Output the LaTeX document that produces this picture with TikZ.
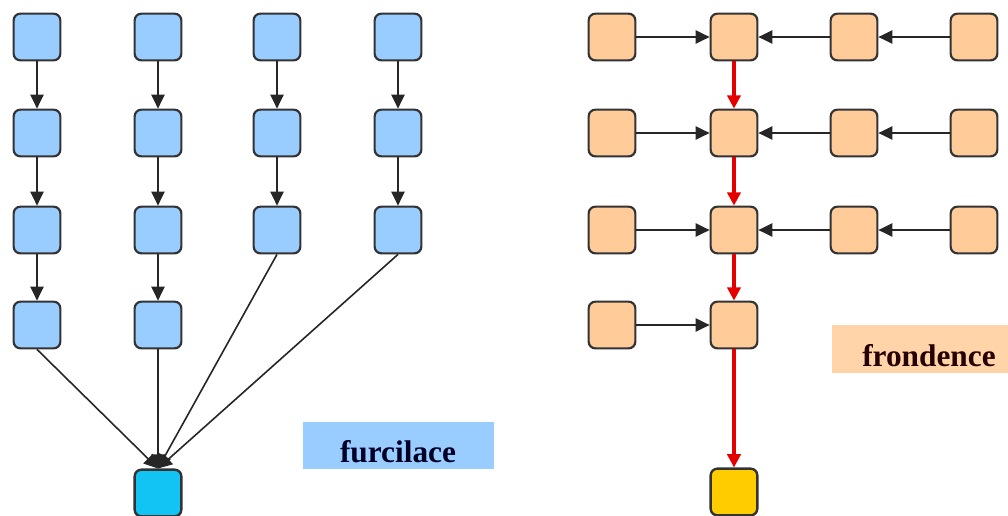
\documentclass[tikz,border=0pt]{standalone}
\usepackage{fontspec}
\setmainfont{Liberation Serif}
\usetikzlibrary{arrows.meta}
\definecolor{lblue}{HTML}{99CCFF}
\definecolor{cyanb}{HTML}{11C4F4}
\definecolor{lorange}{HTML}{FFCC99}
\definecolor{yel}{HTML}{FFCC00}
\definecolor{bord}{HTML}{333333}
\begin{document}
\begin{tikzpicture}[x=0.75pt,y=-0.75pt,
  bx/.style={draw=bord,line width=1.6pt,rounded corners=5pt,minimum width=35pt,minimum height=35pt,inner sep=0pt},
  bb/.style={bx,fill=lblue},
  ob/.style={bx,fill=lorange},
  blk/.style={draw=black!85,line width=1.2pt,-{Triangle[length=10.5pt,width=10pt]}},
  red/.style={draw=red!90!black,line width=2.4pt,-{Triangle[length=10pt,width=10pt]}},
  lbl/.style={font=\bfseries\fontsize{23.5}{26}\selectfont,text=black!85!blue,inner sep=0pt}]
\useasboundingbox (0,0) rectangle (1008,515);
% blue part
\foreach \c/\x in {1/37,2/158,3/277,4/398}{
  \foreach \r/\y in {1/37,2/133,3/230}{
    \node[bb] (b\c\r) at (\x,\y) {};
  }
}
\node[bb] (b14) at (37,325) {};
\node[bb] (b24) at (158,325) {};
\node[bx,fill=cyanb,line width=1.8pt] (bend) at (158,493) {};
\coordinate (bt) at ([yshift=0pt]bend.north);
\foreach \c in {1,2,3,4}{
  \draw[blk] (b\c1) -- (b\c2);
  \draw[blk] (b\c2) -- (b\c3);
}
\draw[blk] (b13) -- (b14);
\draw[blk] (b23) -- (b24);
\draw[blk] (b14.south) -- (bt);
\draw[blk] (b24.south) -- (bt);
\draw[blk] (b33.south) -- (bt);
\draw[blk] (b43.south) -- (bt);
\node[fill=lblue,minimum width=143pt,minimum height=35pt,inner sep=0pt] (lab1) at (398.5,445.5) {};
\node[lbl] (lab1t) at (398,452) {furcilace};
% orange part
\foreach \c/\x in {1/612,2/734,3/854,4/974}{
  \foreach \r/\y in {1/37,2/133,3/230}{
    \node[ob] (o\c\r) at (\x,\y) {};
  }
}
\node[ob] (o14) at (612,325) {};
\node[ob] (o24) at (734,325) {};
\node[bx,fill=yel,line width=1.8pt] (oend) at (734,492) {};
\foreach \r in {1,2,3}{
  \draw[blk] (o1\r) -- (o2\r);
  \draw[blk] (o4\r) -- (o3\r);
  \draw[blk] (o3\r) -- (o2\r);
}
\draw[blk] (o14) -- (o24);
\draw[red] (o21) -- (o22);
\draw[red] (o22) -- (o23);
\draw[red] (o23) -- (o24);
\draw[red] (o24) -- (oend);
\node[fill=lorange!85!white,minimum width=132pt,minimum height=36pt,inner sep=0pt,anchor=west] (lab2) at (832,349) {};
\node[lbl,text=black!85!red] (lab2t) at (929,356) {frondence};
\end{tikzpicture}
\end{document}
